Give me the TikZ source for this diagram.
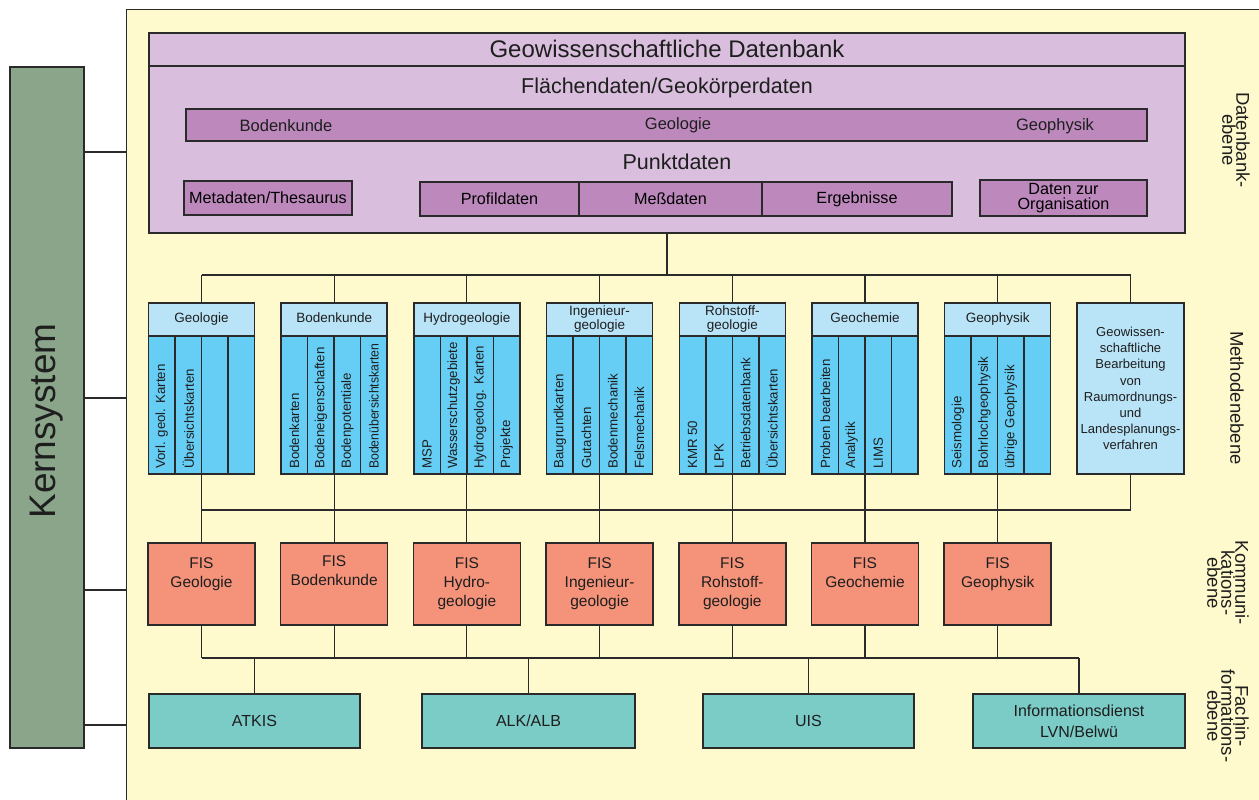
\documentclass[tikz,border=0pt]{standalone}
\usepackage{fontspec}
\usepackage{graphicx}
\setmainfont{Liberation Sans}
\usetikzlibrary{calc}
\definecolor{bgyel}{HTML}{FFFACD}
\definecolor{kern}{HTML}{8BA58A}
\definecolor{dbfill}{HTML}{D9BFDD}
\definecolor{dbbar}{HTML}{BD89BD}
\definecolor{hdr}{HTML}{B9E4F8}
\definecolor{colblue}{HTML}{66CDF4}
\definecolor{fis}{HTML}{F4937A}
\definecolor{tealbox}{HTML}{7BCBC7}
\definecolor{ln}{HTML}{2A2A2A}
\definecolor{txt}{HTML}{1E1E1E}
\newcommand\myfs[2]{\fontsize{#1}{#2}\selectfont}
\begin{document}
\begin{tikzpicture}[x=1pt,y=-1pt,
  box/.style={draw=ln, line width=1.5pt, inner sep=0pt, outer sep=0pt},
  conn/.style={draw=ln, line width=1.1pt},
  lbl/.style={inner sep=0pt, text=txt},
  side/.style={inner sep=0pt, text=txt, rotate=-90, align=center, font=\myfs{18.5}{14}}]

\fill[white] (0,0) rectangle (1259,800);
\useasboundingbox (0,0) rectangle (1259,800);
\fill[bgyel] (126,10) rectangle (1259,800);
\draw[ln, line width=1pt] (126,800) -- (126,10) -- (1259,10);

% Kernsystem
\node[box, fill=kern, minimum width=74pt, minimum height=681pt, anchor=north west] (kern) at (10,67) {};
\node[lbl, rotate=90, font=\myfs{37}{40}] (kernlbl) at (47,421) {Kernsystem};
\foreach \yy/\n in {152/1,398/2,590/3,725/4}{
  \coordinate (kb\n) at (126,\yy);
  \draw[conn] (kern.east |- kb\n) -- (kb\n);
}

% Datenbank
\node[box, line width=1.8pt, fill=dbfill, minimum width=1036pt, minimum height=200pt, anchor=north west] (db) at (149,33) {};
\draw[ln, line width=1.2pt] (db.west |- 0,66) -- (db.east |- 0,66);
\node[lbl, font=\myfs{24}{28}] (dbtitle) at (667,49) {Geowissenschaftliche Datenbank};
\node[lbl, font=\myfs{21.5}{24}] (flaech) at (667,88) {Flächendaten/Geokörperdaten};
\node[box, line width=1.2pt, fill=dbbar, minimum width=961pt, minimum height=32pt, anchor=north west] (bar) at (186,109) {};
\node[lbl, font=\myfs{16.5}{19}] (bk) at (286,126) {Bodenkunde};
\node[lbl, font=\myfs{16.5}{19}] (geo) at (678,125) {Geologie};
\node[lbl, font=\myfs{16.5}{19}] (gph) at (1055,126) {Geophysik};
\node[lbl, font=\myfs{21.5}{24}] (punkt) at (677,162) {Punktdaten};
\node[box, line width=1.2pt, fill=dbbar, minimum width=168pt, minimum height=34pt, anchor=north west, font=\myfs{16.2}{18}] (meta) at (184,181) {Metadaten/Thesaurus};
\node[box, line width=1.2pt, fill=dbbar, minimum width=159pt, minimum height=34pt, anchor=north west, font=\myfs{16.2}{18}] (prof) at (420,182) {Profildaten};
\node[box, line width=1.2pt, fill=dbbar, minimum width=183pt, minimum height=34pt, anchor=north west, font=\myfs{16.2}{18}] (mess) at (579,182) {Meßdaten};
\node[box, line width=1.2pt, fill=dbbar, minimum width=190pt, minimum height=34pt, anchor=north west, font=\myfs{16.2}{18}] (erg) at (762,182) {Ergebnisse};
\node[box, line width=1.2pt, fill=dbbar, minimum width=167pt, minimum height=36pt, anchor=north west, align=center, font=\myfs{16.2}{15}] (org) at (980,180) {Daten zur\\Organisation};

% Methodenebene
\foreach \i/\hd/\tA/\tB/\tC/\tD in {
  0/Geologie/{Vorl. geol. Karten}/{Übersichtskarten}/{}/{},
  1/Bodenkunde/Bodenkarten/Bodeneigenschaften/Bodenpotentiale/{\scalebox{0.92}[1]{Bodenübersichtskarten}},
  2/Hydrogeologie/MSP/Wasserschutzgebiete/{Hydrogeolog. Karten}/Projekte,
  3/{Ingenieur-\\geologie}/Baugrundkarten/Gutachten/Bodenmechanik/Felsmechanik,
  4/{Rohstoff-\\geologie}/{KMR 50}/LPK/Betriebsdatenbank/Übersichtskarten,
  5/Geochemie/{Proben bearbeiten}/Analytik/LIMS/{},
  6/Geophysik/Seismologie/Bohrlochgeophysik/{übrige Geophysik}/{}}{
  \pgfmathsetmacro\cx{201.5+132.7*\i}
  \node[box, fill=hdr, minimum width=106pt, minimum height=33pt, anchor=north, align=center, font=\myfs{13.5}{14}, text=txt] (h\i) at (\cx,303) {\hd\vphantom{g}};
  \node[box, fill=colblue, minimum width=106pt, minimum height=138pt, anchor=north] (body\i) at (\cx,336) {};
  \foreach \j/\tt in {0/\tA,1/\tB,2/\tC,3/\tD}{
    \node[box, fill=colblue, minimum width=26.5pt, minimum height=138pt, anchor=north west] (c\i\j) at ({\cx-53+26.5*\j},336) {};
    \node[lbl, rotate=90, anchor=west, font=\myfs{13.3}{15}] (t\i\j) at ({\cx-53+26.5*\j+13.25},469) {\tt};
  }
}
\node[box, fill=hdr, minimum width=107pt, minimum height=171pt, anchor=north west, align=center, font=\myfs{13}{16.2}, text=txt] (m7) at (1077,303) {Geowissen-\\schaftliche\\Bearbeitung\\von\\Raumordnungs-\\und\\Landesplanungs-\\verfahren};

% FIS
\foreach \i/\tx/\dy in {0/{FIS\\Geologie}/557, 1/{FIS\\Bodenkunde}/555, 2/{FIS\\Hydro-\\geologie}/557, 3/{FIS\\Ingenieur-\\geologie}/557, 4/{FIS\\Rohstoff-\\geologie}/557, 5/{FIS\\Geochemie}/557, 6/{FIS\\Geophysik}/557}{
  \pgfmathsetmacro\cx{201.5+132.7*\i}
  \node[box, fill=fis, minimum width=107pt, minimum height=82pt, anchor=north] (f\i) at (\cx,543) {};
  \node[lbl, anchor=north, align=center, font=\myfs{15.5}{19}] (ft\i) at (\cx,\dy) {\tx};
}

% Fachinformationsebene
\node[box, fill=tealbox, minimum width=211pt, minimum height=54pt, anchor=north west, font=\myfs{16}{18}, text=txt] (b0) at (149,694) {ATKIS};
\node[box, fill=tealbox, minimum width=213pt, minimum height=54pt, anchor=north west, font=\myfs{16}{18}, text=txt] (b1) at (422,694) {ALK/ALB};
\node[box, fill=tealbox, minimum width=211pt, minimum height=54pt, anchor=north west, font=\myfs{16}{18}, text=txt] (b2) at (703,694) {UIS};
\node[box, fill=tealbox, minimum width=212pt, minimum height=54pt, anchor=north west, align=center, font=\myfs{16}{21}, text=txt] (b3) at (973,694) {Informationsdienst\\LVN/Belwü};

% Verbindungen
\coordinate (tb) at (0,275);
\coordinate (mb) at (0,510);
\coordinate (fb) at (0,658);
\draw[conn] (db.south) -- (db.south |- tb);
\draw[conn] (h0.north |- tb) -- (m7.north |- tb);
\foreach \i in {0,...,6}{
  \draw[conn] (h\i.north) -- (h\i.north |- tb);
  \draw[conn] (body\i.south) -- (f\i.north);
  \draw[conn] (f\i.south) -- (f\i.south |- fb);
}
\draw[conn] (m7.north) -- (m7.north |- tb);
\draw[conn] (body0.south |- mb) -- (m7.south |- mb) -- (m7.south);
\draw[conn] (f0.south |- fb) -- (b3.north |- fb);
\foreach \j in {0,...,3}{
  \draw[conn] (b\j.north) -- (b\j.north |- fb);
}

% Ebenen
\node[side] (l1) at (1236,140) {Datenbank-\\ebene};
\node[side] (l2) at (1237,398) {Methodenebene};
\node[side] (l3) at (1228,583) {Kommuni-\\kations-\\ebene};
\node[side] (l4) at (1228,716) {Fachin-\\formations-\\ebene};
\end{tikzpicture}
\end{document}
